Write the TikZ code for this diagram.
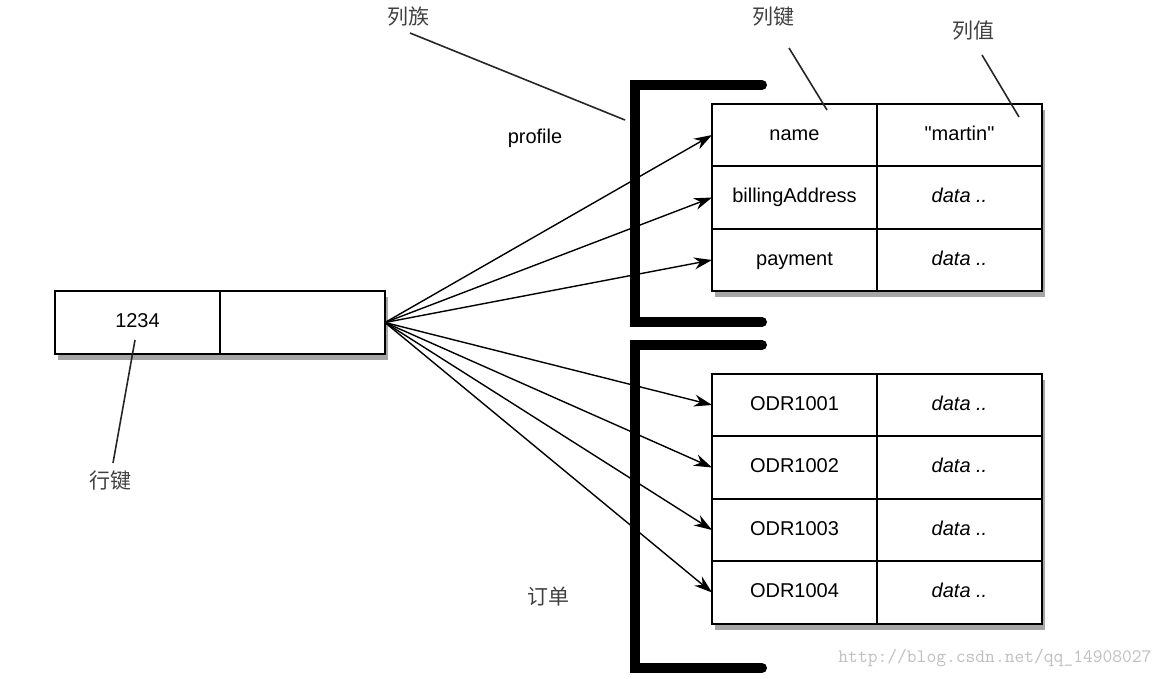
\documentclass[tikz,border=0pt]{standalone}
\usepackage{fontspec}
\setmainfont{Liberation Sans}
\newfontfamily\cjk{Noto Sans CJK SC}
\usetikzlibrary{arrows.meta,positioning,shadows,fit,backgrounds}

\tikzset{
  cell/.style={draw, line width=1.8pt, fill=white, inner sep=0pt, outer sep=0pt,
    minimum width=165pt, minimum height=62.5pt, text height=14pt, text depth=4pt,
    font=\fontsize{20}{24}\selectfont},
  frame/.style={fill=white, inner sep=0pt,
    drop shadow={shadow xshift=3pt, shadow yshift=-6pt, opacity=.5, fill=black!70}},
  link/.style={-{Stealth[length=18pt, width=12pt]}, line width=1.4pt},
  cjklbl/.style={font=\cjk\fontsize{21}{24}\selectfont, text=black!75},
  pointer/.style={line width=1.6pt, black!85},
  bracket/.style={line width=10pt, line cap=round, line join=miter}
}

\begin{document}
\begin{tikzpicture}[x=1pt, y=-1pt]
  \useasboundingbox (0,0) rectangle (1166,678);

  % row key
  \node[cell] (rk) at (137.5,322.5) {1234};
  \node[cell, right=0pt of rk] (rv) {};

  % column family: profile
  \node[cell] (k1) at (794.5,135) {name};
  \node[cell, right=0pt of k1] (v1) {\textquotedbl martin\textquotedbl};
  \node[cell, below=0pt of k1] (k2) {billingAddress};
  \node[cell, right=0pt of k2] (v2) {\itshape data ..};
  \node[cell, below=0pt of k2] (k3) {payment};
  \node[cell, right=0pt of k3] (v3) {\itshape data ..};

  % column family: orders
  \node[cell] (b1) at (794.5,405) {ODR1001};
  \node[cell, right=0pt of b1] (c1) {\itshape data ..};
  \node[cell, below=0pt of b1] (b2) {ODR1002};
  \node[cell, right=0pt of b2] (c2) {\itshape data ..};
  \node[cell, below=0pt of b2] (b3) {ODR1003};
  \node[cell, right=0pt of b3] (c3) {\itshape data ..};
  \node[cell, below=0pt of b3] (b4) {ODR1004};
  \node[cell, right=0pt of b4] (c4) {\itshape data ..};

  \begin{scope}[on background layer]
    \node[frame, fit=(rk)(rv)] {};
    \node[frame, fit=(k1)(v3)] {};
    \node[frame, fit=(b1)(c4)] {};
  \end{scope}

  % brackets
  \draw[bracket] (762,85) -- (635,85) -- (635,322) -- (762,322);
  \draw[bracket] (762,345) -- (635,345) -- (635,668) -- (762,668);

  \path (rv.east) edge[link] (k1.west);
  \path (rv.east) edge[link] (k2.west);
  \path (rv.east) edge[link] (k3.west);
  \path (rv.east) edge[link] (b1.west);
  \path (rv.east) edge[link] (b2.west);
  \path (rv.east) edge[link] (b3.west);
  \path (rv.east) edge[link] (b4.west);

  % labels
  \node[font=\fontsize{20}{24}\selectfont] (prof) at (535,138) {profile};
  \node[cjklbl] (ord) at (548,597) {订单};
  \node[cjklbl] (fam) at (408,17) {列族};
  \node[cjklbl] (ckey) at (773,17) {列键};
  \node[cjklbl] (cval) at (973,31) {列值};
  \node[cjklbl] (rkey) at (110,481) {行键};

  \coordinate (famtop) at (410,33);
  \coordinate (famend) at (625,120);
  \coordinate (ckeytop) at (789,48);
  \coordinate (ckeyend) at (827,110);
  \coordinate (cvaltop) at (982,55);
  \coordinate (cvalend) at (1019,117);
  \coordinate (rkeytop) at (135,340);
  \coordinate (rkeyend) at (113,463);
  \draw[pointer] (famtop) -- (famend);
  \draw[pointer] (ckeytop) -- (ckeyend);
  \draw[pointer] (cvaltop) -- (cvalend);
  \draw[pointer] (rkeytop) -- (rkeyend);

  \node[font=\ttfamily\fontsize{19}{22}\selectfont, text=black!25] (mark) at (995,658) {http://blog.csdn.net/qq\_14908027};
\end{tikzpicture}
\end{document}
